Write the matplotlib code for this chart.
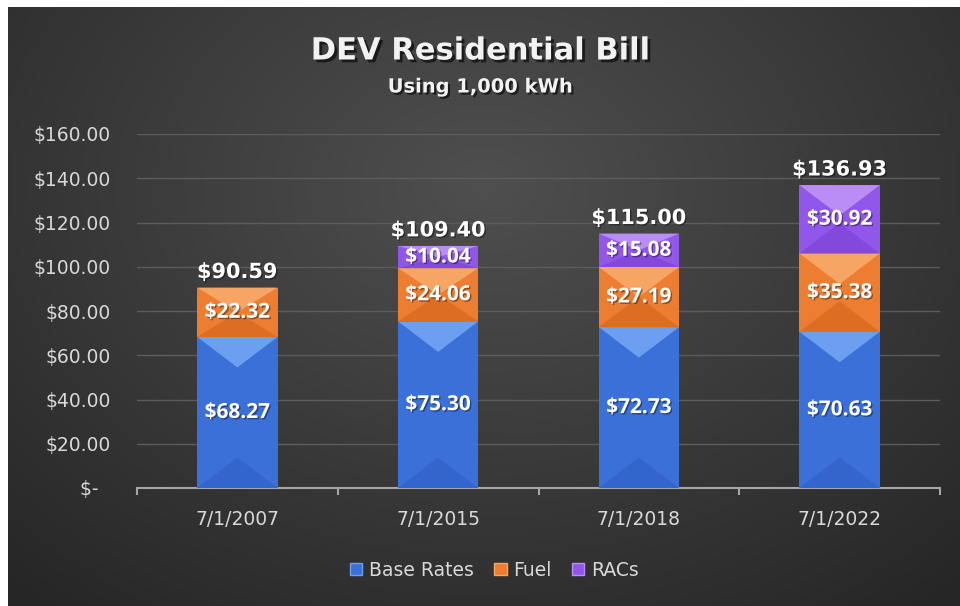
import numpy as np
import matplotlib
matplotlib.use("Agg")
import matplotlib.pyplot as plt
from matplotlib.patches import Polygon, Patch
import matplotlib.patheffects as pe

categories = ["7/1/2007", "7/1/2015", "7/1/2018", "7/1/2022"]
base_rates = [68.27, 75.30, 72.73, 70.63]
fuel = [22.32, 24.06, 27.19, 35.38]
racs = [0.0, 10.04, 15.08, 30.92]
totals = [90.59, 109.40, 115.00, 136.93]
series_names = ["Base Rates", "Fuel", "RACs"]
y_ticks = [0, 20, 40, 60, 80, 100, 120, 140, 160]

plt.rcParams['font.family'] = ['DejaVu Sans']
LABEL_FONT = ['Open Sans', 'DejaVu Sans']

W, H = 960, 606
fig = plt.figure(figsize=(W / 100, H / 100), dpi=100)
fig.patch.set_facecolor("white")

# chart-area background with radial gradient
bg = fig.add_axes([8 / W, 0, 1 - 8 / W, 1 - 7 / H])
bg.set_axis_off()
gx, gy = np.meshgrid(np.linspace(0, 1, 400), np.linspace(0, 1, 300))
r = np.sqrt(((gx - 0.5) / 0.75) ** 2 + ((gy - 0.30) / 0.9) ** 2)
r = np.clip(r, 0, 1)
c_in = np.array([0.31, 0.31, 0.31])
c_out = np.array([0.15, 0.15, 0.15])
img = c_in[None, None, :] * (1 - r[..., None]) + c_out[None, None, :] * r[..., None]
bg.imshow(img, extent=[0, 1, 0, 1], aspect='auto', origin='upper')
bg.set_xlim(0, 1)
bg.set_ylim(0, 1)

ax_l, ax_r = 137 / W, 940 / W
ax_b, ax_t = 1 - 488 / H, 1 - 134 / H
ax = fig.add_axes([ax_l, ax_b, ax_r - ax_l, ax_t - ax_b])
ax.set_facecolor("none")
ax.set_xlim(-0.5, len(categories) - 0.5)
ax.set_ylim(0, 160)

x = np.arange(len(categories))
bw = 0.40
cols = {
    "Base Rates": ("#3b70d8", "#6d9ff0", "#3465cc"),
    "Fuel": ("#ed7d31", "#f6a565", "#dc6d22"),
    "RACs": ("#9157ea", "#b98cf6", "#8249dc"),
}

base_arr = np.array(base_rates)
fuel_arr = np.array(fuel)
racs_arr = np.array(racs)
b1 = ax.bar(x, base_arr, bw, color=cols["Base Rates"][0], zorder=3)
b2 = ax.bar(x, fuel_arr, bw, bottom=base_arr, color=cols["Fuel"][0], zorder=3)
b3 = ax.bar(x, racs_arr, bw, bottom=base_arr + fuel_arr, color=cols["RACs"][0], zorder=3)

# bevel effect
ax_w_px = (ax_r - ax_l) * W
ax_h_px = (ax_t - ax_b) * H
px_per_x = ax_w_px / (len(categories))
px_per_y = ax_h_px / 160.0
for bars, name in zip([b1, b2, b3], series_names):
    base_c, light_c, dark_c = cols[name]
    for p in bars:
        x0, y0 = p.get_x(), p.get_y()
        w, h = p.get_width(), p.get_height()
        if h <= 0:
            continue
        w_px, h_px = w * px_per_x, h * px_per_y
        d_px = min(0.38 * w_px, h_px / 2)
        d = d_px / px_per_y
        xc = x0 + w / 2
        top = Polygon([[x0, y0 + h], [x0 + w, y0 + h], [xc, y0 + h - d]],
                      closed=True, color=light_c, lw=0, zorder=4)
        bot = Polygon([[x0, y0], [x0 + w, y0], [xc, y0 + d]],
                      closed=True, color=dark_c, lw=0, zorder=4)
        ax.add_patch(top)
        ax.add_patch(bot)

shadow = [pe.withSimplePatchShadow(offset=(1, -1), shadow_rgbFace="black", alpha=0.4)]
# segment labels
for bars, vals in zip([b1, b2, b3], [base_arr, fuel_arr, racs_arr]):
    for p, v in zip(bars, vals):
        if v <= 0:
            continue
        ax.text(p.get_x() + p.get_width() / 2, p.get_y() + p.get_height() / 2,
                f"${v:,.2f}", ha='center', va='center', color='white',
                fontsize=15, fontweight='bold', family=LABEL_FONT, zorder=6,
                path_effects=shadow)
# total labels
for xi, t in zip(x, totals):
    ax.annotate(f"${t:,.2f}", (xi, t), xytext=(0, 4), textcoords='offset points',
                ha='center', va='bottom', color='white', fontsize=15,
                fontweight='bold', zorder=6, path_effects=shadow)

ax.set_yticks(y_ticks)
ax.set_yticklabels([f"${v:,.2f}" if v else "$-  " for v in y_ticks])
ax.yaxis.grid(True, color="#5c5c5c", lw=1, zorder=0)
ax.set_axisbelow(True)
ax.tick_params(axis='y', length=0, pad=19, labelsize=13.5, labelcolor="#d9d9d9")
ax.set_xticks(x)
ax.set_xticklabels(categories)
ax.tick_params(axis='x', which='major', length=0, pad=16, labelsize=13.5, labelcolor="#d9d9d9")
ax.set_xticks(np.arange(-0.5, len(categories)), minor=True)
ax.tick_params(axis='x', which='minor', length=5, width=1.5, color="#a6a6a6", direction='out')
for s in ["top", "right", "left"]:
    ax.spines[s].set_visible(False)
ax.spines["bottom"].set_color("#a6a6a6")
ax.spines["bottom"].set_linewidth(1.5)

fig.text(0.5, 1 - 51 / H, "DEV Residential Bill", ha='center', va='center',
         color="#f2f2f2", fontsize=22, fontweight='bold',
         path_effects=[pe.withSimplePatchShadow(offset=(2, -2), shadow_rgbFace="black", alpha=0.6)])
fig.text(0.5, 1 - 87 / H, "Using 1,000 kWh", ha='center', va='center',
         color="#f2f2f2", fontsize=14, fontweight='bold',
         path_effects=[pe.withSimplePatchShadow(offset=(1.5, -1.5), shadow_rgbFace="black", alpha=0.6)])

handles = [Patch(facecolor=cols[n][0], edgecolor=cols[n][1], lw=1) for n in series_names]
leg = fig.legend(handles, series_names, loc='center', bbox_to_anchor=(0.515, 1 - 570 / H),
                 ncol=3, frameon=False, fontsize=13.5, labelcolor="#d9d9d9",
                 handlelength=0.65, handleheight=0.65, handletextpad=0.35, columnspacing=1.1)

fig.savefig("out.png", dpi=100, facecolor=fig.get_facecolor())
